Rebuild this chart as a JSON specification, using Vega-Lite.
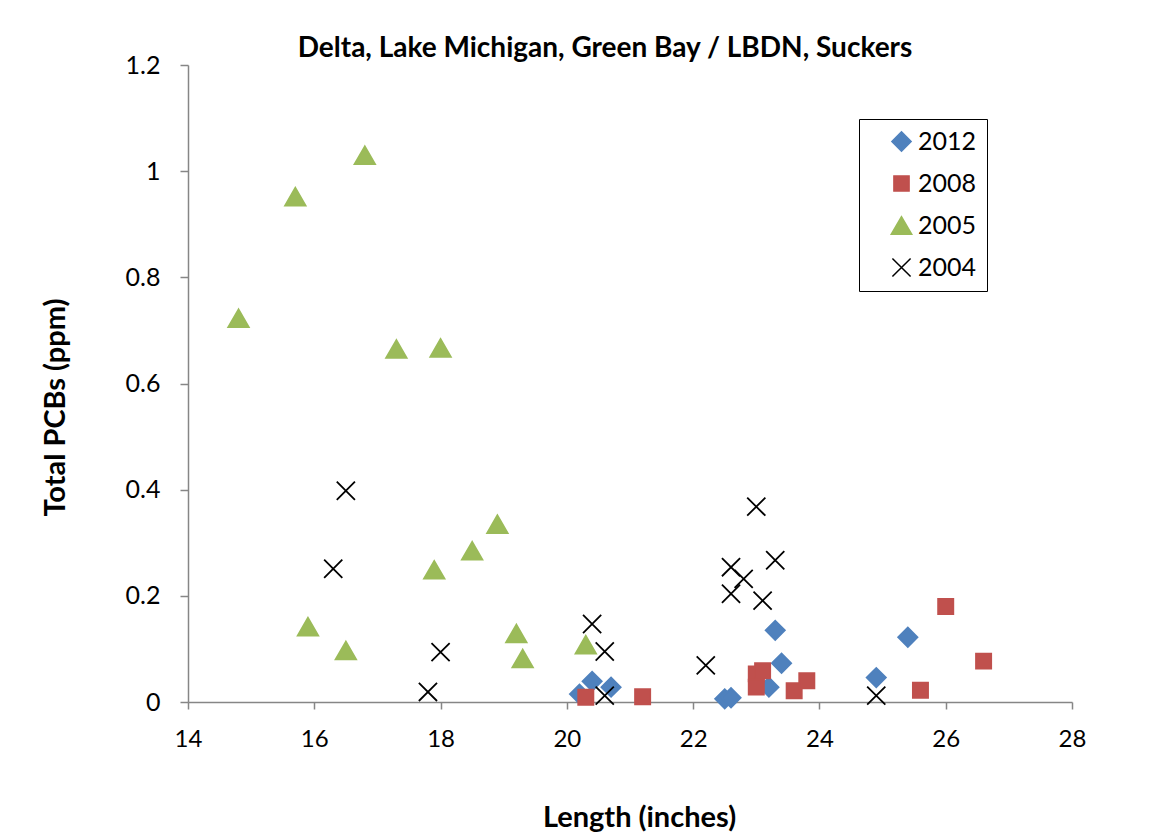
{
  "$schema": "https://vega.github.io/schema/vega-lite/v6.json",
  "width": 884,
  "height": 637,
  "autosize": {"type": "none"},
  "padding": {"left": 188, "top": 65, "right": 84, "bottom": 137},
  "background": "white",
  "config": {
    "font": "Lato",
    "view": {"stroke": null},
    "axis": {"grid": false, "domainColor": "#868686", "tickColor": "#868686", "domainWidth": 1.5, "tickWidth": 1.5, "labelColor": "#000000", "titleColor": "#000000", "labelFont": "Lato", "titleFont": "Lato"}
  },
  "title": {
    "text": "Delta, Lake Michigan, Green Bay / LBDN, Suckers",
    "font": "Lato",
    "fontSize": 28,
    "fontWeight": "bold",
    "color": "#000000",
    "anchor": "middle",
    "baseline": "alphabetic",
    "offset": 7,
    "dx": -25,
    "dy": 39
  },
  "data": {
    "values": [
      {"Year": "2012", "Length": 20.2, "PCB": 0.015},
      {"Year": "2012", "Length": 20.4, "PCB": 0.039},
      {"Year": "2012", "Length": 20.7, "PCB": 0.028},
      {"Year": "2012", "Length": 22.5, "PCB": 0.006},
      {"Year": "2012", "Length": 22.6, "PCB": 0.008},
      {"Year": "2012", "Length": 23.3, "PCB": 0.135},
      {"Year": "2012", "Length": 23.4, "PCB": 0.073},
      {"Year": "2012", "Length": 23.2, "PCB": 0.028},
      {"Year": "2012", "Length": 25.4, "PCB": 0.122},
      {"Year": "2012", "Length": 24.9, "PCB": 0.046},
      {"Year": "2008", "Length": 20.3, "PCB": 0.009},
      {"Year": "2008", "Length": 21.2, "PCB": 0.01},
      {"Year": "2008", "Length": 23.0, "PCB": 0.053},
      {"Year": "2008", "Length": 23.1, "PCB": 0.059},
      {"Year": "2008", "Length": 23.0, "PCB": 0.028},
      {"Year": "2008", "Length": 23.6, "PCB": 0.021},
      {"Year": "2008", "Length": 23.8, "PCB": 0.04},
      {"Year": "2008", "Length": 26.0, "PCB": 0.18},
      {"Year": "2008", "Length": 26.6, "PCB": 0.077},
      {"Year": "2008", "Length": 25.6, "PCB": 0.022},
      {"Year": "2005", "Length": 14.8, "PCB": 0.723},
      {"Year": "2005", "Length": 15.7, "PCB": 0.952},
      {"Year": "2005", "Length": 16.8, "PCB": 1.03},
      {"Year": "2005", "Length": 17.3, "PCB": 0.665},
      {"Year": "2005", "Length": 18.0, "PCB": 0.667},
      {"Year": "2005", "Length": 15.9, "PCB": 0.142},
      {"Year": "2005", "Length": 16.5, "PCB": 0.097},
      {"Year": "2005", "Length": 17.9, "PCB": 0.249},
      {"Year": "2005", "Length": 18.5, "PCB": 0.285},
      {"Year": "2005", "Length": 18.9, "PCB": 0.335},
      {"Year": "2005", "Length": 19.2, "PCB": 0.129},
      {"Year": "2005", "Length": 19.3, "PCB": 0.082},
      {"Year": "2005", "Length": 20.3, "PCB": 0.108},
      {"Year": "2004", "Length": 16.5, "PCB": 0.398},
      {"Year": "2004", "Length": 16.3, "PCB": 0.251},
      {"Year": "2004", "Length": 18.0, "PCB": 0.094},
      {"Year": "2004", "Length": 17.8, "PCB": 0.019},
      {"Year": "2004", "Length": 20.4, "PCB": 0.147},
      {"Year": "2004", "Length": 20.6, "PCB": 0.095},
      {"Year": "2004", "Length": 20.6, "PCB": 0.012},
      {"Year": "2004", "Length": 22.2, "PCB": 0.069},
      {"Year": "2004", "Length": 23.0, "PCB": 0.368},
      {"Year": "2004", "Length": 22.6, "PCB": 0.254},
      {"Year": "2004", "Length": 22.6, "PCB": 0.204},
      {"Year": "2004", "Length": 22.8, "PCB": 0.232},
      {"Year": "2004", "Length": 23.3, "PCB": 0.267},
      {"Year": "2004", "Length": 23.1, "PCB": 0.191},
      {"Year": "2004", "Length": 24.9, "PCB": 0.012}
    ]
  },
  "mark": {"type": "point", "filled": true, "opacity": 1, "strokeWidth": 1.8},
  "encoding": {
    "x": {
      "field": "Length",
      "type": "quantitative",
      "scale": {"domain": [14, 28], "nice": false, "zero": false},
      "axis": {
        "values": [14, 16, 18, 20, 22, 24, 26, 28],
        "title": "Length (inches)",
        "titleFontSize": 29,
        "titleFontWeight": "bold",
        "titleX": 451,
        "titleY": 115,
        "titleBaseline": "middle",
        "labelFontSize": 24,
        "labelPadding": 18,
        "tickSize": 7,
        "labelFlush": false,
        "labelOverlap": false
      }
    },
    "y": {
      "field": "PCB",
      "type": "quantitative",
      "scale": {"domain": [0, 1.2], "nice": false},
      "axis": {
        "values": [0, 0.2, 0.4, 0.6, 0.8, 1, 1.2],
        "format": "~g",
        "title": "Total PCBs (ppm)",
        "titleFontSize": 29,
        "titleFontWeight": "bold",
        "titleAngle": -90,
        "titleX": -133,
        "titleY": 342,
        "titleBaseline": "middle",
        "titleAlign": "center",
        "labelFontSize": 25,
        "labelPadding": 20,
        "tickSize": 8,
        "labelFlush": false,
        "labelOverlap": false
      }
    },
    "fill": {
      "field": "Year",
      "type": "nominal",
      "scale": {"domain": ["2012", "2008", "2005", "2004"], "range": ["#4F81BD", "#C0504D", "#9BBB59", "#000000"]},
      "legend": {
        "title": null,
        "orient": "none",
        "legendX": 671,
        "legendY": 54,
        "strokeColor": "#000000",
        "fillColor": "white",
        "padding": 10,
        "rowPadding": 16,
        "symbolOffset": 20,
        "labelOffset": 4,
        "labelFontSize": 25,
        "labelColor": "#000000",
        "encode": {"legend": {"update": {"strokeWidth": {"value": 2}}}}
      }
    },
    "stroke": {
      "field": "Year",
      "type": "nominal",
      "scale": {"domain": ["2012", "2008", "2005", "2004"], "range": ["#4F81BD", "#C0504D", "#9BBB59", "#000000"]}
    },
    "shape": {
      "field": "Year",
      "type": "nominal",
      "scale": {"domain": ["2012", "2008", "2005", "2004"], "range": ["diamond", "square", "triangle-up", "M-1,-1L1,1M-1,1L1,-1"]}
    },
    "size": {
      "field": "Year",
      "type": "nominal",
      "scale": {"type": "ordinal", "domain": ["2012", "2008", "2005", "2004"], "range": [370, 230, 420, 330]}
    }
  }
}
